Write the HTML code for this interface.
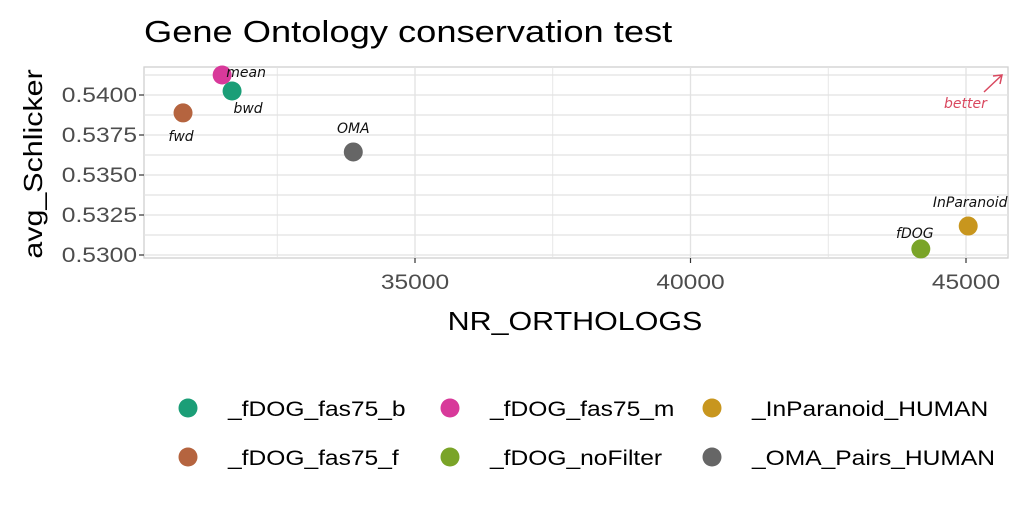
<!DOCTYPE html>
<html><head><meta charset="utf-8"><style>
body{margin:0;background:#fff;width:1024px;height:512px;overflow:hidden;font-family:"Liberation Sans",sans-serif}
text{font-family:"Liberation Sans",sans-serif}
.hand{font-family:"DejaVu Sans",sans-serif;font-style:italic}
</style></head><body>
<svg id="chart" width="1024" height="512">
<text x="144" y="42" font-size="31" fill="#000">Gene Ontology conservation test</text>
<rect x="144" y="67" width="864" height="191" fill="#fff" stroke="#d0d0d0" stroke-width="1.3"/>
<g id="grid"></g><g id="axes"></g><g id="pts"></g>
<text x="575" y="330" font-size="26" text-anchor="middle">NR_ORTHOLOGS</text>
<text transform="translate(42,164) rotate(-90)" font-size="26" text-anchor="middle">avg_Schlicker</text>
<g>
<text x="944" y="108" font-size="14" fill="#d9485f" class="hand">better</text>
<line x1="984" y1="92" x2="1002" y2="75" stroke="#d9485f" stroke-width="1.5"/>
<path d="M993 76 L1002 75 L1000 84" fill="none" stroke="#d9485f" stroke-width="1.5"/>
</g>
<g id="legend"></g>
</svg>
<script>
const names=["_fDOG_fas75_b","_fDOG_fas75_f","_fDOG_fas75_m","_fDOG_noFilter","_InParanoid_HUMAN","_OMA_Pairs_HUMAN"];
const labels=["bwd","fwd","mean","fDOG","InParanoid","OMA"];
const xVals=[31680,30790,31500,44180,45040,33880];
const yVals=[0.54025,0.53888,0.54125,0.53038,0.53181,0.53644];
const colors=["#1b9e77","#b5643f","#d8399a","#7aa428","#c8961e","#666666"];
const xTicks=[35000,40000,45000];
const yTicks=[0.5300,0.5325,0.5350,0.5375,0.5400];
const NS="http://www.w3.org/2000/svg";
const L=144,R=1008,T=67,B=258;
const sx=v=>415+(v-35000)*275.5/5000;
const sy=v=>255-(v-0.53)*40/0.0025;
function mk(tag,attrs,parent){const e=document.createElementNS(NS,tag);for(const k in attrs)e.setAttribute(k,attrs[k]);parent.appendChild(e);return e;}
const grid=document.getElementById('grid'),axes=document.getElementById('axes'),pts=document.getElementById('pts'),leg=document.getElementById('legend');
for(let v=32500;v<=45000;v+=2500){const x=sx(v);if(x<L||x>R)continue;
 const g=mk('line',{x1:x,x2:x,y1:T,y2:B,stroke:'#e2e2e2','stroke-width':v%5000?0.8:1.3},grid);
 }
for(let v=0.52875;v<=0.5415;v+=0.00125){const y=sy(v);if(y<T||y>B)continue;
 const g=mk('line',{x1:L,x2:R,y1:y,y2:y,stroke:'#e2e2e2','stroke-width':1.2},grid);
 }
xTicks.forEach(v=>{const x=sx(v);
 mk('line',{x1:x,x2:x,y1:B,y2:B+5,stroke:'#333','stroke-width':1.2},axes);
 const t=mk('text',{x:x,y:B+31,'font-size':21,'text-anchor':'middle',fill:'#4d4d4d'},axes);t.textContent=v;
 });
yTicks.forEach(v=>{const y=sy(v);
 mk('line',{x1:L-5,x2:L,y1:y,y2:y,stroke:'#333','stroke-width':1.2},axes);
 const t=mk('text',{x:L-7,y:y+7,'font-size':21,'text-anchor':'end',fill:'#4d4d4d'},axes);t.textContent=v.toFixed(4);
 });
const off=[[16,22],[-2,28],[24,2],[-6,-11],[2,-19],[0,-19]];
xVals.forEach((v,i)=>{const x=sx(v),y=sy(yVals[i]);
 const c=mk('circle',{cx:x,cy:y,r:9.5,fill:colors[i]},pts);
 
 const t=mk('text',{x:x+off[i][0],y:y+off[i][1],'font-size':14,'text-anchor':'middle',fill:'#111',class:'hand'},pts);t.textContent=labels[i];
 });
const order=[0,2,4,1,3,5];
order.forEach((i,k)=>{const col=k%3,row=Math.floor(k/3);const x=188+col*262,y=408+row*49;
 const g=mk('g',{},leg);
 mk('circle',{cx:x,cy:y,r:9.5,fill:colors[i]},g);
 const t=mk('text',{x:x+40,y:y+8,'font-size':21,fill:'#000'},g);t.textContent=names[i];});
document.querySelectorAll('svg text').forEach(t=>{if(t.classList.contains('hand'))return;
 const w=t.getComputedTextLength();t.setAttribute('textLength',(w*1.17).toFixed(1));t.setAttribute('lengthAdjust','spacingAndGlyphs');});
</script>
</body></html>
